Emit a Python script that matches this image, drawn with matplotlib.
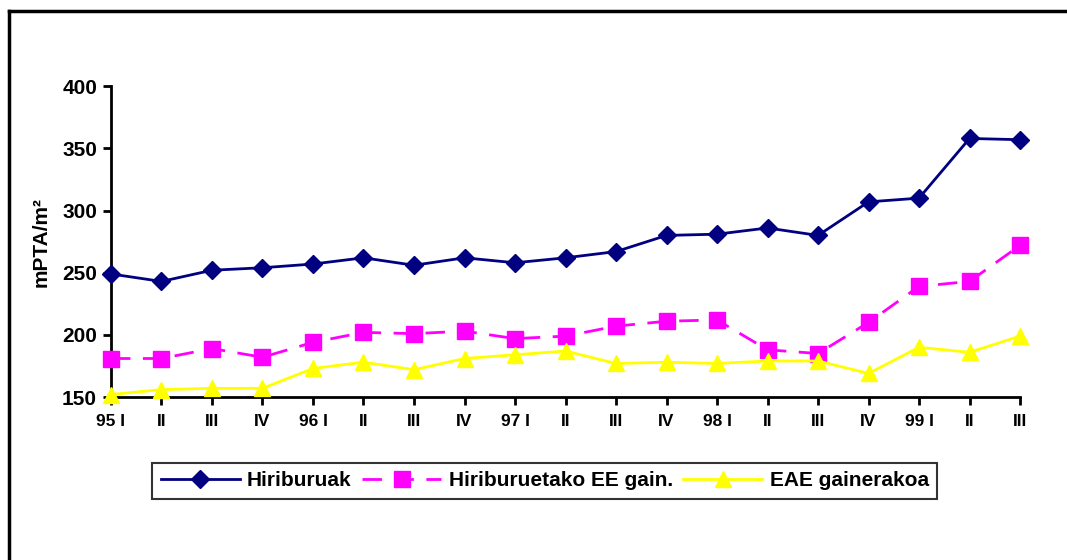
import matplotlib

matplotlib.use("Agg")
import matplotlib.pyplot as plt
from matplotlib.lines import Line2D
import numpy as np

# --- data --------------------------------------------------------------------

QUARTERS = ["95 I", "II", "III", "IV", "96 I", "II", "III", "IV", "97 I", "II",
            "III", "IV", "98 I", "II", "III", "IV", "99 I", "II", "III"]
HIRIBURUAK = [249, 243, 252, 254, 257, 262, 256, 262, 258, 262,
              267, 280, 281, 286, 280, 307, 310, 358, 357]
EE_GAIN = [181, 181, 189, 182, 194, 202, 201, 203, 197, 199,
           207, 211, 212, 188, 185, 210, 239, 243, 272]
EAE_GAIN = [152, 156, 157, 157, 173, 178, 172, 181, 184, 187,
            177, 178, 177, 179, 179, 169, 190, 186, 199]
Y_TICKS = [150, 200, 250, 300, 350, 400]

plt.rcParams["font.family"] = ["Liberation Sans", "DejaVu Sans"]
plt.rcParams["font.weight"] = "bold"

fig = plt.figure(figsize=(10.67, 5.6), dpi=100)
ax = fig.add_axes([0.104, 0.291, 0.852, 0.555])

x = np.arange(len(QUARTERS))
ax.plot(x, HIRIBURUAK, color="#000080", lw=2, marker="D", ms=9,
        label="Hiriburuak", clip_on=False, zorder=4)
ax.plot(x, EE_GAIN, color="#FF00FF", lw=2, ls=(0, (7, 4.5)), marker="s", ms=11,
        label="Hiriburuetako EE gain.", clip_on=False, zorder=3)
ax.plot(x, EAE_GAIN, color="#FFFF00", lw=2, marker="^", ms=11,
        label="EAE gainerakoa", clip_on=False, zorder=5)

ax.set_xlim(0, len(QUARTERS) - 1)
ax.set_ylim(150, 400)
ax.set_yticks(Y_TICKS)
ax.set_xticks(x)
ax.set_xticklabels(QUARTERS)
ax.tick_params(axis="y", labelsize=15, length=6, width=2, pad=4)
ax.tick_params(axis="x", labelsize=12.5, length=6, width=2, pad=6)
for lab in ax.get_xticklabels() + ax.get_yticklabels():
    lab.set_fontweight("bold")
ax.set_ylabel("mPTA/m²", fontsize=15, fontweight="bold", labelpad=8)

for side in ("top", "right"):
    ax.spines[side].set_visible(False)
for side in ("left", "bottom"):
    ax.spines[side].set_linewidth(2)

leg = fig.legend(loc="center", bbox_to_anchor=(0.5105, 0.1415), ncol=3,
                 frameon=True, fancybox=False, edgecolor="black",
                 prop={"size": 15, "weight": "bold"}, handlelength=3.8,
                 handletextpad=0.35, columnspacing=0.5, borderpad=0.4)
leg.get_frame().set_linewidth(1.5)

# chart frame (only top and left edges are visible in the crop)
fig.add_artist(Line2D([8.5 / 1067, 1.0], [1 - 10.5 / 560] * 2, color="black", lw=2.5))
fig.add_artist(Line2D([8.5 / 1067] * 2, [0.0, 1 - 10.5 / 560], color="black", lw=2.5))

fig.savefig("out.png", dpi=100)
